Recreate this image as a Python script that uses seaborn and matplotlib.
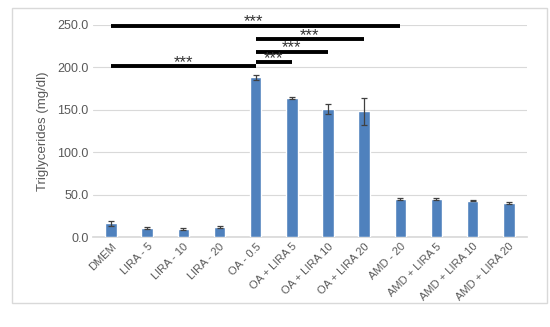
import pandas as pd
import numpy as np
import matplotlib
matplotlib.use('Agg')
import matplotlib.pyplot as plt
import seaborn as sns
from matplotlib.patches import Rectangle

# data
groups = ['DMEM', 'LIRA - 5', 'LIRA - 10', 'LIRA - 20', 'OA - 0.5', 'OA + LIRA 5',
          'OA + LIRA 10', 'OA + LIRA 20', 'AMD - 20', 'AMD + LIRA 5',
          'AMD + LIRA 10', 'AMD + LIRA 20']
means = [16.5, 10.5, 10.0, 11.5, 188.5, 164.0, 150.5, 148.0, 45.0, 45.0, 43.0, 40.0]
errors = [3.0, 1.2, 1.2, 1.0, 3.0, 1.2, 6.0, 16.0, 0.8, 0.8, 0.8, 1.5]

# significance brackets: (start group, end group, height, star position)
sig_start = [0, 0, 4, 4, 4]
sig_end = [4, 8, 5, 6, 7]
sig_height = [201, 249, 206, 218, 233]
sig_star_x = [2.0, 3.95, 4.5, 5.0, 5.5]

df = pd.DataFrame({'group': groups, 'tg': means})

sns.set_theme(style="white")
plt.rcParams['font.family'] = ['Liberation Sans', 'DejaVu Sans']

fig = plt.figure(figsize=(5.5, 3.27), dpi=100)
ax = fig.add_axes([0.169, 0.275, 0.789, 0.649])

# chart frame like the excel one
fig.patches.append(Rectangle((12 / 550, 1 - 303 / 327), 535 / 550, 295 / 327,
                             transform=fig.transFigure, fill=False,
                             edgecolor='#d9d9d9', linewidth=1.0))

sns.barplot(data=df, x='group', y='tg', color='#4f81bd', saturation=1,
            width=0.32, ax=ax, zorder=3)
ax.errorbar(np.arange(len(groups)), means, yerr=errors, fmt='none',
            ecolor='#404040', elinewidth=0.9, capsize=2.5, capthick=0.9, zorder=4)

ax.set_ylim(0, 250)
ax.set_xlim(-0.5, len(groups) - 0.5)
ax.set_yticks(np.arange(0, 251, 50))
ax.set_yticklabels([f'{v:.1f}' for v in np.arange(0, 251, 50)], fontsize=9, color='#595959')
ax.set_xticks(range(len(groups)))
ax.set_xticklabels(groups, rotation=45, ha='right', rotation_mode='anchor',
                   fontsize=8, color='#595959')
ax.tick_params(axis='both', length=0, pad=3)
ax.yaxis.grid(True, color='#d9d9d9', linewidth=0.8, zorder=0)
ax.set_axisbelow(True)
for s in ['left', 'right', 'top']:
    ax.spines[s].set_visible(False)
ax.spines['bottom'].set_color('#d9d9d9')
ax.set_xlabel('')
ax.set_ylabel('Triglycerides (mg/dl)', fontsize=9.5, color='#595959', labelpad=6)

# significance lines
for a, b, h, sx in zip(sig_start, sig_end, sig_height, sig_star_x):
    ax.plot([a, b], [h, h], color='black', linewidth=2.8, solid_capstyle='butt',
            zorder=5, clip_on=False)
    ax.text(sx, h - 0.5, '***', ha='center', va='baseline', fontsize=12,
            color='#333333', zorder=6, clip_on=False)

plt.savefig('out.png', dpi=100)
plt.close()
